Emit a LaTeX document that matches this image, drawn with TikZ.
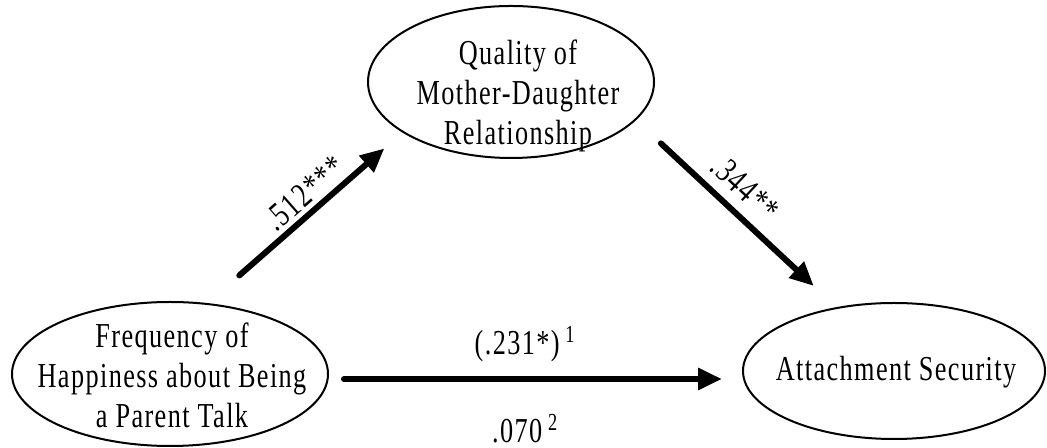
\documentclass[tikz,border=0pt]{standalone}
\usepackage{fontspec}
\setmainfont{Liberation Serif}[FakeStretch=0.75,LetterSpace=4]
\usepackage{tikz}
\usetikzlibrary{arrows.meta,shapes.geometric}

\begin{document}
\begin{tikzpicture}[x=0.5pt,y=0.5pt,
    var/.style={draw, ellipse, line width=1pt, inner sep=0pt},
    vtext/.style={align=center, font=\fontsize{17.5}{20}\selectfont},
    effect/.style={line width=3pt, line cap=round, -{Triangle[length=12pt,width=10.5pt]}},
    coef/.style={font=\fontsize{17.5}{20}\selectfont, inner sep=1pt}]
  \useasboundingbox (0,0) rectangle (1047,448);

  % the three ellipses
  \node[var, minimum width=143pt, minimum height=76pt] (qual) at (511,366) {};
  \node[var, minimum width=158pt, minimum height=72pt] (freq) at (170,74) {};
  \node[var, minimum width=151pt, minimum height=68pt] (att) at (894,77) {};

  \node[vtext] (qualtxt) at (518,352) {Quality of\\Mother-Daughter\\Relationship};
  \node[vtext] (freqtxt) at (172,73) {Frequency of\\Happiness about Being\\a Parent Talk};
  \node[vtext] (atttxt) at (896,76) {Attachment Security};

  % paths
  \draw[effect, shorten <=21pt, shorten >=12pt] (freq.62.7) -- node[coef, pos=0.56, sloped, above=1pt] (pa) {.512***} (qual.205);
  \draw[effect, shorten <=17pt, shorten >=15.5pt] (qual.343) -- node[coef, pos=0.46, sloped, above=4pt] (pb) {.344**} (att.132.4);
  \draw[effect, shorten <=7.5pt, shorten >=10pt] ([yshift=-2.5pt]freq.east) --
    node[coef, pos=0.475, above=6pt] (pc) {(.231*)\,\textsuperscript{1}}
    node[coef, pos=0.475, below=15pt] (pd) {.070\,\textsuperscript{2}}
    ([yshift=-2.5pt]freq.east -| att.west);
\end{tikzpicture}
\end{document}
